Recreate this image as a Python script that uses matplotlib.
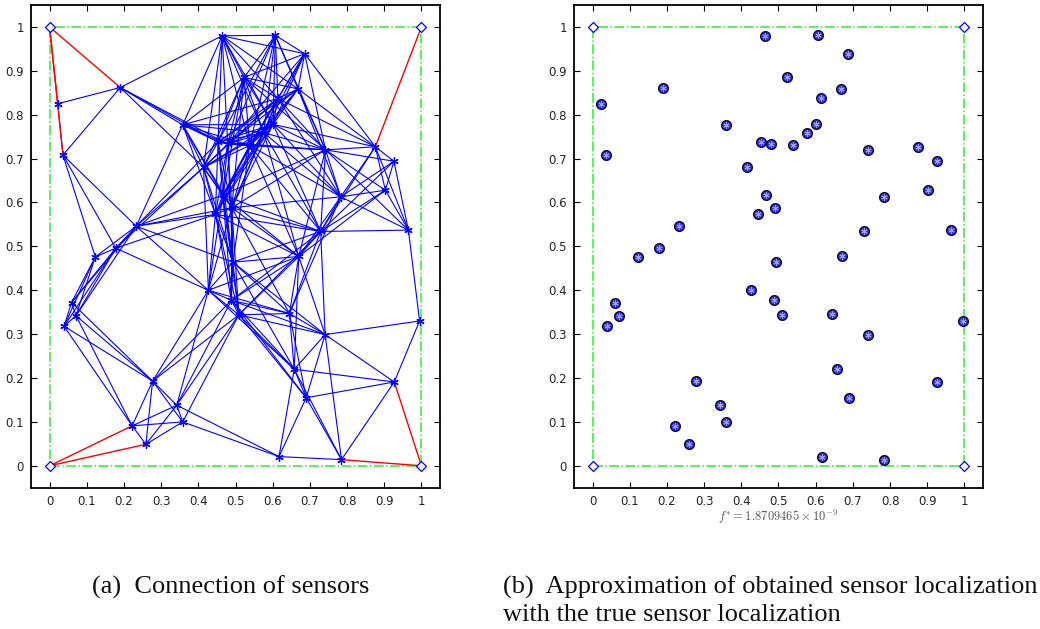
import matplotlib
matplotlib.use("Agg")
import matplotlib.pyplot as plt

# sensor positions
sensor_x = [0.022, 0.036, 0.190, 0.358, 0.464, 0.607, 0.686, 0.523, 0.668, 0.614,
            0.601, 0.576, 0.453, 0.479, 0.538, 0.414, 0.742, 0.876, 0.926, 0.903,
            0.783, 0.466, 0.490, 0.446, 0.233, 0.178, 0.729, 0.965, 0.123, 0.670,
            0.493, 0.059, 0.039, 0.071, 0.427, 0.489, 0.509, 0.645, 0.741, 0.995,
            0.658, 0.690, 0.927, 0.277, 0.342, 0.358, 0.222, 0.259, 0.617, 0.785]
sensor_y = [0.825, 0.708, 0.862, 0.777, 0.980, 0.981, 0.939, 0.885, 0.859, 0.837,
            0.778, 0.759, 0.738, 0.733, 0.730, 0.680, 0.720, 0.727, 0.694, 0.628,
            0.613, 0.617, 0.588, 0.573, 0.546, 0.496, 0.534, 0.537, 0.476, 0.477,
            0.464, 0.372, 0.318, 0.342, 0.400, 0.377, 0.344, 0.347, 0.299, 0.330,
            0.220, 0.155, 0.191, 0.193, 0.138, 0.100, 0.091, 0.049, 0.021, 0.014]

anchor_x = [0, 0, 1, 1]
anchor_y = [0, 1, 0, 1]

# sensor-sensor links (1-based sensor numbers)
sensor_links = [
    (1, 2), (1, 3),
    (2, 3), (2, 25), (2, 26), (2, 29),
    (3, 4), (3, 5), (3, 13), (3, 14), (3, 16),
    (4, 5), (4, 8), (4, 10), (4, 11), (4, 12), (4, 13), (4, 14), (4, 15), (4, 16),
    (4, 22), (4, 23), (4, 24), (4, 25),
    (5, 6), (5, 7), (5, 8), (5, 9), (5, 10), (5, 11), (5, 12), (5, 13), (5, 14),
    (5, 15), (5, 16),
    (6, 7), (6, 8), (6, 9), (6, 10), (6, 11), (6, 12), (6, 13), (6, 14), (6, 15), (6, 17),
    (7, 8), (7, 9), (7, 10), (7, 11), (7, 12), (7, 14), (7, 15), (7, 17), (7, 18),
    (8, 9), (8, 10), (8, 11), (8, 12), (8, 13), (8, 14), (8, 15), (8, 16), (8, 17),
    (8, 22), (8, 23),
    (9, 10), (9, 11), (9, 12), (9, 13), (9, 14), (9, 15), (9, 17), (9, 18), (9, 21),
    (10, 11), (10, 12), (10, 13), (10, 14), (10, 15), (10, 16), (10, 17), (10, 18),
    (10, 21), (10, 22), (10, 23),
    (11, 12), (11, 13), (11, 14), (11, 15), (11, 16), (11, 17), (11, 18), (11, 21),
    (11, 22), (11, 23), (11, 24), (11, 27),
    (12, 13), (12, 14), (12, 15), (12, 16), (12, 17), (12, 21), (12, 22), (12, 23),
    (12, 24), (12, 27), (12, 30),
    (13, 14), (13, 15), (13, 16), (13, 17), (13, 22), (13, 23), (13, 24), (13, 25), (13, 31),
    (14, 15), (14, 16), (14, 17), (14, 22), (14, 23), (14, 24), (14, 31),
    (15, 16), (15, 17), (15, 21), (15, 22), (15, 23), (15, 24), (15, 27), (15, 30), (15, 31),
    (16, 22), (16, 23), (16, 24), (16, 25), (16, 26), (16, 31), (16, 35),
    (17, 18), (17, 19), (17, 20), (17, 21), (17, 22), (17, 23), (17, 27), (17, 28), (17, 30),
    (18, 19), (18, 20), (18, 21), (18, 27), (18, 28),
    (19, 20), (19, 21), (19, 27), (19, 28),
    (20, 21), (20, 27), (20, 28), (20, 30),
    (21, 23), (21, 27), (21, 28), (21, 30), (21, 38),
    (22, 23), (22, 24), (22, 25), (22, 27), (22, 30), (22, 31), (22, 35), (22, 36), (22, 37),
    (23, 24), (23, 25), (23, 27), (23, 30), (23, 31), (23, 35), (23, 36), (23, 37), (23, 38),
    (24, 25), (24, 26), (24, 27), (24, 30), (24, 31), (24, 35), (24, 36), (24, 37),
    (25, 26), (25, 29), (25, 31), (25, 32), (25, 34), (25, 35),
    (26, 29), (26, 32), (26, 33), (26, 34), (26, 35),
    (27, 28), (27, 30), (27, 31), (27, 36), (27, 37), (27, 38), (27, 39),
    (28, 40),
    (29, 32), (29, 33), (29, 34),
    (30, 31), (30, 35), (30, 36), (30, 37), (30, 38), (30, 39), (30, 41),
    (31, 35), (31, 36), (31, 37), (31, 38), (31, 39), (31, 41),
    (32, 33), (32, 34), (32, 44),
    (33, 34), (33, 44), (33, 47),
    (34, 44), (34, 47),
    (35, 36), (35, 37), (35, 38), (35, 41), (35, 44), (35, 45),
    (36, 37), (36, 38), (36, 39), (36, 41), (36, 42), (36, 44), (36, 45),
    (37, 38), (37, 39), (37, 41), (37, 42), (37, 44), (37, 45), (37, 46),
    (38, 39), (38, 41), (38, 42),
    (39, 40), (39, 41), (39, 42), (39, 43), (39, 50),
    (40, 43),
    (41, 42), (41, 43), (41, 49), (41, 50),
    (42, 43), (42, 49), (42, 50),
    (43, 50),
    (44, 45), (44, 46), (44, 47), (44, 48),
    (45, 46), (45, 47), (45, 48), (45, 49),
    (46, 47), (46, 48), (46, 49),
    (47, 48),
    (49, 50),
]

# anchor-sensor links: (anchor index 0-3, sensor number)
anchor_links = [(1, 1), (1, 2), (1, 3), (3, 18), (0, 47), (0, 48), (2, 50), (2, 43)]

# boundary square corners (anchor order)
box_order = [0, 2, 3, 1, 0]

ticks = [0, 0.1, 0.2, 0.3, 0.4, 0.5, 0.6, 0.7, 0.8, 0.9, 1]
tick_labels = ["0", "0.1", "0.2", "0.3", "0.4", "0.5", "0.6", "0.7", "0.8", "0.9", "1"]

BLUE = "#0000ff"
GREEN = "#2ef02e"
ASTERISK = (6, 2, 0)


def style_axes(ax):
    ax.set_xlim(-0.05, 1.05)
    ax.set_ylim(-0.05, 1.05)
    ax.set_xticks(ticks)
    ax.set_yticks(ticks)
    ax.set_xticklabels(tick_labels, fontsize=8.5, color="#222222")
    ax.set_yticklabels(tick_labels, fontsize=8.5, color="#222222")
    ax.tick_params(direction="in", top=True, right=True, length=4, width=0.8, pad=5)
    for sp in ax.spines.values():
        sp.set_linewidth(1.3)


def draw_box(ax):
    bx = [anchor_x[i] for i in box_order]
    by = [anchor_y[i] for i in box_order]
    ax.plot(bx, by, linestyle="-.", color=GREEN, linewidth=1.1, zorder=1)


fig = plt.figure(figsize=(10.4, 6.29), dpi=100)
ax1 = fig.add_axes([0.0298, 0.2246, 0.3933, 0.7674])
ax2 = fig.add_axes([0.5519, 0.2246, 0.3933, 0.7674])

# (a) connections
draw_box(ax1)
for i, j in sensor_links:
    ax1.plot([sensor_x[i - 1], sensor_x[j - 1]], [sensor_y[i - 1], sensor_y[j - 1]],
             color=BLUE, linewidth=0.8, zorder=2)
for a, s in anchor_links:
    ax1.plot([anchor_x[a], sensor_x[s - 1]], [anchor_y[a], sensor_y[s - 1]],
             color="red", linewidth=1.0, zorder=3)
ax1.plot(sensor_x, sensor_y, linestyle="none", marker=ASTERISK, color=BLUE,
         markersize=6, markeredgewidth=0.9, zorder=4)
ax1.plot(anchor_x, anchor_y, linestyle="none", marker="D", markersize=5.5,
         markerfacecolor="white", markeredgecolor=BLUE, markeredgewidth=0.9, zorder=5)
style_axes(ax1)

# (b) estimated vs true positions
draw_box(ax2)
ax2.plot(sensor_x, sensor_y, linestyle="none", marker="o", markersize=7,
         markerfacecolor="#2b2bff", markeredgecolor="#111111", markeredgewidth=1.0, zorder=3)
ax2.plot(sensor_x, sensor_y, linestyle="none", marker=ASTERISK, markersize=4.5,
         color="#a0a0ff", markeredgewidth=0.7, zorder=4)
ax2.plot(anchor_x, anchor_y, linestyle="none", marker="D", markersize=5.5,
         markerfacecolor="white", markeredgecolor=BLUE, markeredgewidth=0.9, zorder=5)
style_axes(ax2)

fig.text(0.7485, 0.193, r"$f^{*} = 1.8709465 \times 10^{-9}$", ha="center", va="top",
         fontsize=9, color="#555555", math_fontfamily="cm")

cap = dict(fontsize=19, family="Liberation Serif", color="#111111", va="center", ha="left")
fig.text(0.0885, 0.067, "(a)  Connection of sensors", **cap)
fig.text(0.4836, 0.067, "(b)  Approximation of obtained sensor localization", **cap)
fig.text(0.4836, 0.022, "with the true sensor localization", **cap)

fig.savefig("out.png", dpi=100)
